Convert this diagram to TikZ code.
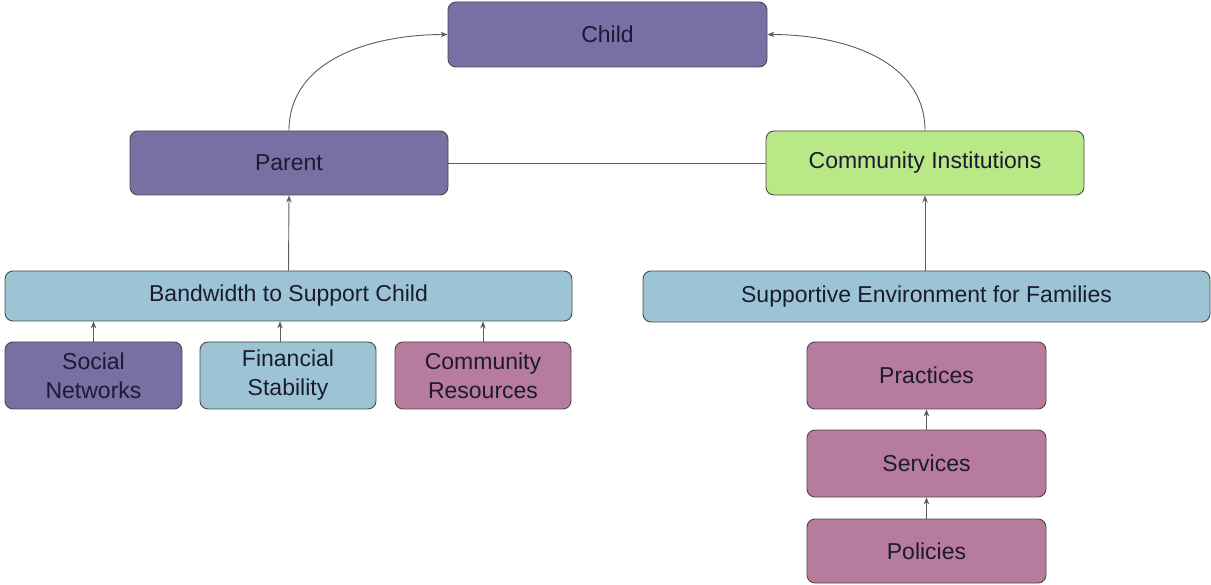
\documentclass[tikz,border=0pt]{standalone}
\usepackage{fontspec}
\setmainfont{Liberation Sans}
\usetikzlibrary{arrows.meta}
\definecolor{purp}{HTML}{7A6FA3}
\definecolor{lblue}{HTML}{9DC4D5}
\definecolor{pink}{HTML}{B77C9D}
\definecolor{lgreen}{HTML}{B8E986}
\definecolor{edgec}{HTML}{4A4A4A}
\definecolor{txt}{HTML}{1C1A33}
\begin{document}
\begin{tikzpicture}[x=1pt,y=-1pt,
  box/.style={draw=edgec,line width=0.9pt,rounded corners=8pt,inner sep=0pt,
    text=txt,align=center,font=\fontsize{23}{29}\selectfont},
  conn/.style={draw=edgec!90,line width=0.9pt},
  arr/.style={conn,-{Stealth[length=7pt,width=5.5pt]}}]
\useasboundingbox (0,0) rectangle (1211,585);
\node[box,fill=purp,minimum width=319pt,minimum height=65pt] (child) at (607.5,34.5) {Child};
\node[box,fill=purp,minimum width=318pt,minimum height=64pt] (parent) at (289,163) {Parent};
\node[box,fill=lgreen,minimum width=318pt,minimum height=64pt] (inst) at (925,163) {Community Institutions};
\node[box,fill=lblue,minimum width=567pt,minimum height=50pt] (band) at (288.5,296) {Bandwidth to Support Child};
\node[box,fill=lblue,minimum width=567pt,minimum height=51pt] (env) at (926.5,296.5) {Supportive Environment for Families};
\node[box,fill=purp,minimum width=177pt,minimum height=67pt] (soc) at (93.5,375.5) {Social\\Networks};
\node[box,fill=lblue,minimum width=176pt,minimum height=67pt] (fin) at (288,375.5) {Financial\\Stability};
\node[box,fill=pink,minimum width=176pt,minimum height=67pt] (res) at (483,375.5) {Community\\Resources};
\node[box,fill=pink,minimum width=239pt,minimum height=67pt] (prac) at (926.5,375.5) {Practices};
\node[box,fill=pink,minimum width=239pt,minimum height=67pt] (serv) at (926.5,463.5) {Services};
\node[box,fill=pink,minimum width=239pt,minimum height=64pt] (pol) at (926.5,551) {Policies};
\draw[arr] (parent.north) to[out=90,in=180] (child.west);
\draw[arr] (inst.north) to[out=90,in=0] (child.east);
\draw[conn] (parent.east) -- (inst.west);
\draw[arr] (band.north) -- (parent.south);
\draw[arr] (env.north -| inst.south) -- (inst.south);
\draw[arr] (soc.north) -- (soc.north |- band.south);
\draw[arr] ([xshift=-8pt]fin.north) -- ([xshift=-8pt]fin.north |- band.south);
\draw[arr] (res.north) -- (res.north |- band.south);
\draw[arr] (serv.north) -- (prac.south);
\draw[arr] (pol.north) -- (serv.south);
\end{tikzpicture}
\end{document}
